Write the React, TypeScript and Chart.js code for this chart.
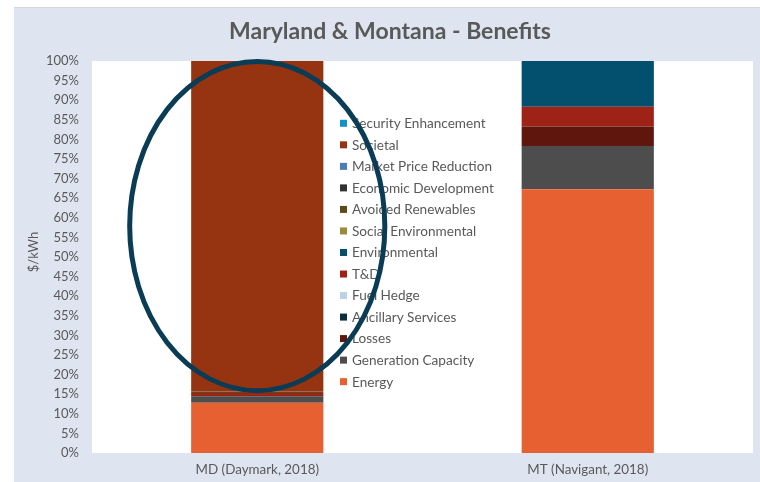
import React, { useEffect, useRef } from "react";
import { Chart, registerables } from "chart.js";

Chart.register(...registerables);

// ---- Data ----
const categories = ["MD (Daymark, 2018)", "MT (Navigant, 2018)"];

// Stack order: bottom -> top
const seriesNames = [
  "Energy",
  "Generation Capacity",
  "Losses",
  "Ancillary Services",
  "Fuel Hedge",
  "T&D",
  "Environmental",
  "Social Environmental",
  "Avoided Renewables",
  "Economic Development",
  "Market Price Reduction",
  "Societal",
  "Security Enhancement",
];

const seriesColors = [
  "#e66032",
  "#4d4d4d",
  "#5f160c",
  "#0d2e3d",
  "#bad1e9",
  "#9e2316",
  "#02506e",
  "#9c8a3a",
  "#5c4a1a",
  "#333333",
  "#4a7ebb",
  "#963412",
  "#1192c9",
];

const energy = [12.8, 67.3];
const generationCapacity = [1.7, 11.0];
const losses = [0, 5.0];
const ancillaryServices = [0, 0];
const fuelHedge = [0, 0];
const tAndD = [0.8, 5.0];
const environmental = [0, 11.7];
const socialEnvironmental = [0, 0];
const avoidedRenewables = [0.4, 0];
const economicDevelopment = [0, 0];
const marketPriceReduction = [0, 0];
const societal = [84.3, 0];
const securityEnhancement = [0, 0];

const seriesValues = [
  energy,
  generationCapacity,
  losses,
  ancillaryServices,
  fuelHedge,
  tAndD,
  environmental,
  socialEnvironmental,
  avoidedRenewables,
  economicDevelopment,
  marketPriceReduction,
  societal,
  securityEnhancement,
];

const yMin = 0;
const yMax = 100;
const yStep = 5;

const titleText = "Maryland & Montana - Benefits";
const yAxisTitle = "$/kWh";

const TEXT = "#595959";
const FONT = "Lato, 'Open Sans', sans-serif";

const framePlugin = {
  id: "frame",
  beforeDraw(chart: any) {
    const { ctx, width, height, chartArea } = chart;
    ctx.save();
    ctx.fillStyle = "#ffffff";
    ctx.fillRect(0, 0, width, height);
    ctx.fillStyle = "#dee5f0";
    ctx.fillRect(14, 7, width - 14, height - 7);
    ctx.fillStyle = "#d4d8de";
    ctx.fillRect(14, 7, width - 14, 1);
    ctx.fillStyle = "#ffffff";
    ctx.fillRect(
      chartArea.left,
      chartArea.top,
      chartArea.right - chartArea.left,
      chartArea.bottom - chartArea.top
    );
    // title
    ctx.fillStyle = TEXT;
    ctx.font = `bold 23px ${FONT}`;
    ctx.textAlign = "center";
    ctx.textBaseline = "middle";
    ctx.fillText(titleText, 390, 32);
    // y axis title
    ctx.font = `13px ${FONT}`;
    ctx.translate(34, 252);
    ctx.rotate(-Math.PI / 2);
    ctx.fillText(yAxisTitle, 0, 0);
    ctx.restore();
  },
};

const legendPlugin = {
  id: "innerLegend",
  afterDatasetsDraw(chart: any) {
    const { ctx } = chart;
    ctx.save();
    ctx.font = `13.6px ${FONT}`;
    ctx.textAlign = "left";
    ctx.textBaseline = "middle";
    const n = seriesNames.length;
    const top = 123.3;
    const step = 21.53;
    for (let k = 0; k < n; k++) {
      const i = n - 1 - k;
      const cy = top + k * step;
      ctx.fillStyle = seriesColors[i];
      ctx.fillRect(340, cy - 3.5, 7, 7);
      ctx.fillStyle = TEXT;
      ctx.fillText(seriesNames[i], 352, cy + 0.5);
    }
    ctx.restore();
  },
};

const ellipsePlugin = {
  id: "ellipseNote",
  afterDraw(chart: any) {
    const { ctx } = chart;
    const xs = chart.scales.x;
    const ys = chart.scales.y;
    const cx = xs.getPixelForValue(0);
    const catW = xs.getPixelForValue(1) - xs.getPixelForValue(0);
    const cy = ys.getPixelForValue(57.9);
    const ry = ys.getPixelForValue(0) - ys.getPixelForValue(42);
    const rx = catW * 0.386;
    ctx.save();
    ctx.beginPath();
    ctx.ellipse(cx, cy, rx, ry, 0, 0, Math.PI * 2);
    ctx.strokeStyle = "#0b3c55";
    ctx.lineWidth = 5;
    ctx.stroke();
    ctx.restore();
  },
};

export default function App() {
  const ref = useRef<HTMLCanvasElement | null>(null);

  useEffect(() => {
    document.body.style.margin = "0";
    const canvas = ref.current;
    if (!canvas) return;
    const chart = new Chart(canvas, {
      type: "bar",
      data: {
        labels: categories,
        datasets: seriesNames.map((name, i) => ({
          label: name,
          data: seriesValues[i],
          backgroundColor: seriesColors[i],
          borderWidth: 0,
          barPercentage: 0.4,
          categoryPercentage: 1,
        })),
      },
      options: {
        responsive: false,
        animation: false,
        layout: { padding: { left: 14, top: 61, right: 7, bottom: 0 } },
        plugins: {
          legend: { display: false },
          title: { display: false },
          tooltip: { enabled: false },
        },
        scales: {
          x: {
            stacked: true,
            grid: { display: false, drawTicks: false },
            border: { display: false },
            ticks: { color: TEXT, font: { family: FONT, size: 13.4 }, padding: 9 },
            afterFit: (s: any) => {
              s.height = 29;
            },
          },
          y: {
            stacked: true,
            min: yMin,
            max: yMax,
            grid: { display: false, drawTicks: false },
            border: { display: false },
            ticks: {
              stepSize: yStep,
              color: TEXT,
              font: { family: FONT, size: 13 },
              padding: 13,
              callback: (v: any) => `${v}%`,
            },
            afterFit: (s: any) => {
              s.width = 78;
            },
          },
        },
      },
      plugins: [framePlugin, legendPlugin, ellipsePlugin],
    });
    return () => chart.destroy();
  }, []);

  return (
    <canvas
      ref={ref}
      width={760}
      height={482}
      style={{ display: "block", width: 760, height: 482 }}
    />
  );
}
